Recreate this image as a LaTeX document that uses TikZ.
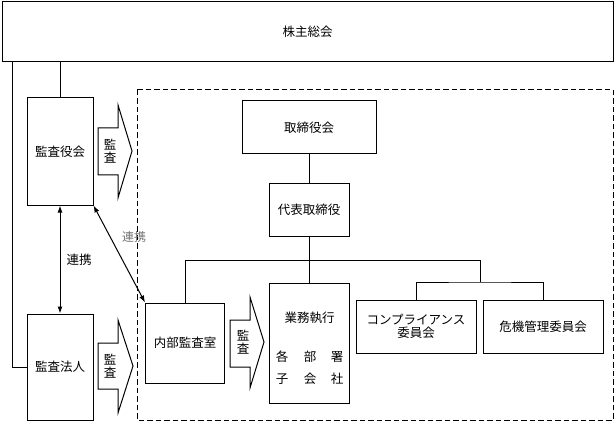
\documentclass[tikz,border=0pt]{standalone}
\usepackage{fontspec}
\newfontfamily\jp{Noto Sans CJK JP}
\usetikzlibrary{arrows.meta}
\begin{document}
\begin{tikzpicture}[x=1pt,y=-1pt,
  font=\jp\fontsize{12.5}{13}\selectfont,
  line width=1pt,
  box/.style={draw, inner sep=0pt, align=center},
  blockarrow/.style={draw, fill=white, line join=miter},
  txt/.style={inner sep=0pt, align=center},
  link/.style={{Latex[length=7pt,width=5pt]}-{Latex[length=7pt,width=5pt]}},
  dashbox/.style={draw, dash pattern=on 5.5pt off 3pt}]
\useasboundingbox (0,0) rectangle (615,422);

% dashed frame
\draw[dashbox] (137,90) rectangle (613,420);

% boxes
\node[box, minimum width=611pt, minimum height=60pt] (soukai) at (307.5,32) {株主総会};
\node[box, minimum width=66pt, minimum height=107pt] (kansayaku) at (60,151.5) {監査役会};
\node[box, minimum width=66pt, minimum height=106pt] (houjin) at (60,367) {監査法人};
\node[box, minimum width=134pt, minimum height=53pt] (torishimari) at (309,127.5) {取締役会};
\node[box, minimum width=80pt, minimum height=53pt] (daihyou) at (309,209.5) {代表取締役};
\node[box, minimum width=79pt, minimum height=80pt] (naibu) at (185,343) {内部監査室};
\node[box, minimum width=80pt, minimum height=120pt] (gyomu) at (309,343) {};
\node[box, minimum width=120pt, minimum height=53pt] (comp) at (416,326.5) {コンプライアンス\\委員会};
\node[box, minimum width=120pt, minimum height=53pt] (kiki) at (543,326.5) {危機管理委員会};

% texts inside gyomu
\node[txt] (gyomuT) at (309.5,318) {業務執行};
\node[txt] (g1) at (282,357) {各};
\node[txt] (g2) at (310,357) {部};
\node[txt] (g3) at (337,357) {署};
\node[txt] (g4) at (282,379) {子};
\node[txt] (g5) at (310,379) {会};
\node[txt] (g6) at (337,379) {社};

% block arrows
\draw[blockarrow] (98,128) -- (118,128) -- (118,105) -- (132,151) -- (118,198) -- (118,175) -- (98,175) -- cycle;
\node[txt] (a1) at (110,151) {監\\査};
\draw[blockarrow] (98,343) -- (118,343) -- (118,320) -- (133,366) -- (118,413) -- (118,389) -- (98,389) -- cycle;
\node[txt] (a2) at (110,366) {監\\査};
\draw[blockarrow] (230,320) -- (250,320) -- (250,297) -- (264,342) -- (250,388) -- (250,367) -- (230,367) -- cycle;
\node[txt] (a3) at (243,342) {監\\査};

% connectors
\coordinate (lt) at (12,62);
\draw (kansayaku.north) -- (kansayaku.north |- soukai.south);
\draw (houjin.west) -| (lt);
\draw[link] (kansayaku.south) -- (houjin.north);
\node[txt] (ren1) at (79,260) {連携};
\draw[link] (kansayaku.south east) -- (naibu.north west);
\node[txt, text=black!55, font=\jp\fontsize{12}{12}\selectfont] (ren2) at (134,237) {連携};

\draw (torishimari.south) -- (daihyou.north);
\draw (daihyou.south) -- (gyomu.north);
\coordinate (j1) at (480,260);
\coordinate (j2) at (480,282);
\draw (naibu.north) |- (j1) -- (j2);
\draw (comp.north) |- (j2) -| (kiki.north);
\end{tikzpicture}
\end{document}
